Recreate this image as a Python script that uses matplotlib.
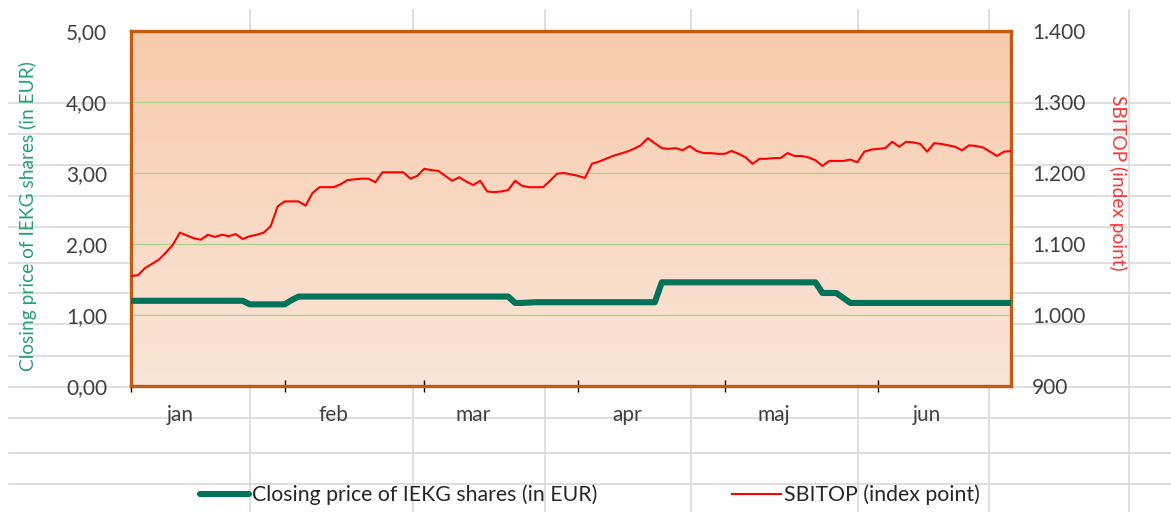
import matplotlib
matplotlib.use("Agg")
import matplotlib.pyplot as plt
import numpy as np
from matplotlib.colors import LinearSegmentedColormap
from matplotlib.ticker import FuncFormatter, FixedLocator

months = ["jan", "feb", "mar", "apr", "maj", "jun"]
trading_days = [22, 20, 22, 21, 22, 20]

# daily closing price of IEKG (EUR)
iekg_price = [
    1.20, 1.20, 1.20, 1.20, 1.20, 1.20, 1.20, 1.20, 1.20, 1.20,
    1.20, 1.20, 1.20, 1.20, 1.20, 1.20, 1.20, 1.15, 1.15, 1.15,
    1.15, 1.15, 1.15, 1.21, 1.26, 1.26, 1.26, 1.26, 1.26, 1.26,
    1.26, 1.26, 1.26, 1.26, 1.26, 1.26, 1.26, 1.26, 1.26, 1.26,
    1.26, 1.26, 1.26, 1.26, 1.26, 1.26, 1.26, 1.26, 1.26, 1.26,
    1.26, 1.26, 1.26, 1.26, 1.26, 1.17, 1.17, 1.175, 1.18, 1.18,
    1.18, 1.18, 1.18, 1.18, 1.18, 1.18, 1.18, 1.18, 1.18, 1.18,
    1.18, 1.18, 1.18, 1.18, 1.18, 1.18, 1.46, 1.46, 1.46, 1.46,
    1.46, 1.46, 1.46, 1.46, 1.46, 1.46, 1.46, 1.46, 1.46, 1.46,
    1.46, 1.46, 1.46, 1.46, 1.46, 1.46, 1.46, 1.46, 1.46, 1.31,
    1.31, 1.31, 1.24, 1.17, 1.17, 1.17, 1.17, 1.17, 1.17, 1.17,
    1.17, 1.17, 1.17, 1.17, 1.17, 1.17, 1.17, 1.17, 1.17, 1.17,
    1.17, 1.17, 1.17, 1.17, 1.17, 1.17, 1.17,
]

# daily SBITOP index points
sbitop = [
    1055, 1056, 1066, 1072, 1078, 1088, 1099, 1116, 1112, 1108,
    1106, 1113, 1110, 1113, 1111, 1114, 1107, 1111, 1113, 1116,
    1125, 1153, 1160, 1160, 1160, 1154, 1172, 1180, 1180, 1180,
    1184, 1190, 1191, 1192, 1192, 1187, 1201, 1201, 1201, 1201,
    1192, 1196, 1206, 1204, 1203, 1196, 1189, 1194, 1188, 1183,
    1189, 1174, 1173, 1174, 1176, 1189, 1182, 1180, 1180, 1180,
    1189, 1199, 1200, 1198, 1196, 1193, 1213, 1216, 1220, 1224,
    1227, 1230, 1234, 1239, 1249, 1242, 1235, 1234, 1235, 1232,
    1238, 1231, 1228, 1228, 1227, 1227, 1231, 1227, 1222, 1213,
    1220, 1220, 1221, 1221, 1228, 1224, 1224, 1222, 1218, 1210,
    1217, 1217, 1217, 1219, 1215, 1230, 1233, 1234, 1235, 1244,
    1237, 1244, 1243, 1241, 1230, 1242, 1241, 1239, 1237, 1232,
    1239, 1238, 1236, 1230, 1224, 1230, 1231,
]

label_left = "Closing price of IEKG shares (in EUR)"
label_right = "SBITOP (index point)"

plt.rcParams['font.family'] = ['Lato', 'DejaVu Sans']
txt = '#404040'

fig = plt.figure(figsize=(11.71, 5.12), dpi=100)

# worksheet cells showing behind the chart
bg = fig.add_axes([0, 0, 1, 1])
bg.set_xlim(0, 1171)
bg.set_ylim(512, 0)
bg.axis('off')
for yy in [103, 134, 165, 196, 227, 263, 293, 324, 356, 387, 418, 453, 484]:
    bg.axhline(yy, xmin=9 / 1171, color='#d9d9d9', lw=1.2)
for xx in [250, 413, 545, 691, 858, 989, 1129]:
    bg.axvline(xx, ymax=1 - 10 / 512, color='#d9d9d9', lw=1.2)

ax = fig.add_axes([131 / 1171, 1 - 386 / 512, 880 / 1171, 355 / 512])
x = np.arange(len(sbitop))

# plot area gradient
cmap = LinearSegmentedColormap.from_list('pa', ['#FAE5D8', '#F7CBAD'])
ax.imshow(np.linspace(0, 1, 256).reshape(-1, 1), cmap=cmap, origin='lower',
          aspect='auto', extent=[0, 1, 0, 1], transform=ax.transAxes, zorder=0)

l1, = ax.plot(x, iekg_price, color='#00735A', lw=4.4, solid_capstyle='round',
              solid_joinstyle='round', zorder=3)
ax.set_xlim(0, len(sbitop) - 1)
ax.set_ylim(0, 5)
ax.set_yticks(np.arange(0, 5.01, 1))
ax.yaxis.set_major_formatter(FuncFormatter(lambda v, p: f"{v:.2f}".replace('.', ',')))
ax.yaxis.grid(True, color='#A9D18E', lw=0.9)
ax.xaxis.grid(False)

bounds = np.concatenate([[0], np.cumsum(trading_days)])
ax.xaxis.set_major_locator(FixedLocator(bounds[:-1]))
ax.xaxis.set_minor_locator(FixedLocator(bounds[:-1] + 7))
ax.xaxis.set_major_formatter(FuncFormatter(lambda v, p: ''))
ax.xaxis.set_minor_formatter(FuncFormatter(
    lambda v, p: months[p] if p is not None and p < len(months) else ''))
ax.tick_params(axis='x', which='major', direction='inout', length=9, width=1,
               color='black')
ax.tick_params(axis='x', which='minor', length=0, pad=14, labelsize=15,
               labelcolor=txt)
ax.tick_params(axis='y', length=0, pad=17, labelsize=15, labelcolor=txt)

for s in ax.spines.values():
    s.set_color('#C55A11')
    s.set_linewidth(2.4)

ax2 = ax.twinx()
l2, = ax2.plot(x, sbitop, color='#FF0000', lw=1.5, zorder=3)
ax2.set_ylim(900, 1400)
ax2.set_yticks(np.arange(900, 1401, 100))
ax2.yaxis.set_major_formatter(FuncFormatter(
    lambda v, p: f"{int(v):,}".replace(',', '.')))
ax2.tick_params(axis='y', length=0, pad=15, labelsize=15, labelcolor=txt)
for s in ax2.spines.values():
    s.set_visible(False)

fig.text(28 / 1171, 1 - 216 / 512, label_left, rotation=90, color='#25A07A',
         fontsize=13.8, ha='center', va='center')
fig.text(1118 / 1171, 1 - 183 / 512, label_right, rotation=270, color='#FF3333',
         fontsize=13.8, ha='center', va='center')

fig.legend([l1, l2], [label_left, label_right], loc='center',
           bbox_to_anchor=(590 / 1171, 1 - 495 / 512), ncol=2, frameon=False,
           fontsize=15.3, handlelength=2.3, handletextpad=0.15,
           columnspacing=6.3, labelcolor='#262626')

fig.savefig('out.png', dpi=100)
